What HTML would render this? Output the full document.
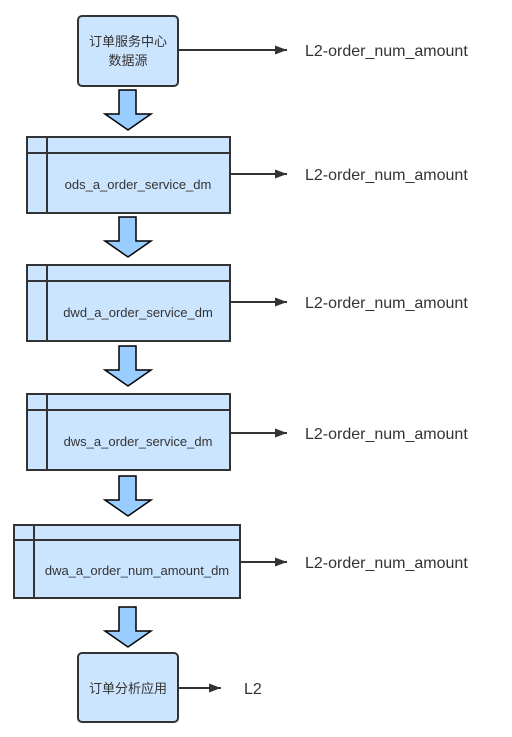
<!DOCTYPE html>
<html><head><meta charset="utf-8"><style>body{margin:0;background:#fff}</style></head><body>
<svg width="512" height="732" xmlns="http://www.w3.org/2000/svg" font-family="Liberation Sans, Noto Sans CJK SC, sans-serif">
<defs><marker id="a" markerWidth="12" markerHeight="9" refX="12" refY="4.5" orient="auto" markerUnits="userSpaceOnUse"><path d="M0,0 L12,4.5 L0,9 Z" fill="#333"/></marker></defs>
<g stroke="#333" stroke-width="2" fill="#cce5ff">
<rect x="78" y="16" width="100" height="70" rx="4"/>
<rect x="78" y="653" width="100" height="69" rx="4"/>
<rect x="27" y="137" width="203" height="76"/><line x1="27" y1="153" x2="230" y2="153"/><line x1="47" y1="137" x2="47" y2="213"/>
<rect x="27" y="265" width="203" height="76"/><line x1="27" y1="281" x2="230" y2="281"/><line x1="47" y1="265" x2="47" y2="341"/>
<rect x="27" y="394" width="203" height="76"/><line x1="27" y1="410" x2="230" y2="410"/><line x1="47" y1="394" x2="47" y2="470"/>
<rect x="14" y="525" width="226" height="73"/><line x1="14" y1="540" x2="240" y2="540"/><line x1="34" y1="525" x2="34" y2="598"/>
</g>
<g fill="#99ccff" stroke="#000" stroke-width="1.5">
<path d="M119,90 h17 v24 h15 l-23,16 l-23,-16 h14 z"/>
<path d="M119,217 h17 v24 h15 l-23,16 l-23,-16 h14 z"/>
<path d="M119,346 h17 v24 h15 l-23,16 l-23,-16 h14 z"/>
<path d="M119,476 h17 v24 h15 l-23,16 l-23,-16 h14 z"/>
<path d="M119,607 h17 v24 h15 l-23,16 l-23,-16 h14 z"/>
</g>
<g stroke="#333" stroke-width="2" marker-end="url(#a)">
<line x1="178" y1="50" x2="287" y2="50"/>
<line x1="230" y1="174" x2="287" y2="174"/>
<line x1="230" y1="302" x2="287" y2="302"/>
<line x1="230" y1="433" x2="287" y2="433"/>
<line x1="240" y1="562" x2="287" y2="562"/>
<line x1="178" y1="688" x2="221" y2="688"/>
</g>
<g fill="#333" font-size="13" text-anchor="middle">
<text x="128" y="46">订单服务中心</text><text x="128" y="65">数据源</text>
<text x="138" y="189">ods_a_order_service_dm</text>
<text x="138" y="317">dwd_a_order_service_dm</text>
<text x="138" y="446">dws_a_order_service_dm</text>
<text x="137" y="575">dwa_a_order_num_amount_dm</text>
<text x="128" y="693">订单分析应用</text>
</g>
<g fill="#333" font-size="16">
<text x="305" y="56">L2-order_num_amount</text>
<text x="305" y="180">L2-order_num_amount</text>
<text x="305" y="308">L2-order_num_amount</text>
<text x="305" y="439">L2-order_num_amount</text>
<text x="305" y="568">L2-order_num_amount</text>
<text x="244" y="694">L2</text>
</g>
</svg>
</body></html>
